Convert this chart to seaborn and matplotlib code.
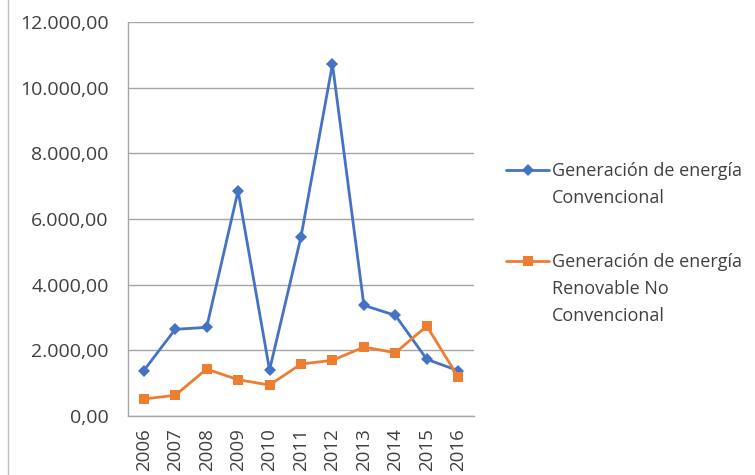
import numpy as np
import pandas as pd
import matplotlib
matplotlib.use("Agg")
import matplotlib.pyplot as plt
import seaborn as sns
from matplotlib.ticker import FuncFormatter, FixedLocator
from matplotlib.lines import Line2D

years = ["2006", "2007", "2008", "2009", "2010", "2011", "2012", "2013", "2014", "2015", "2016"]
convencional = [1380, 2640, 2700, 6860, 1400, 5460, 10715, 3370, 3065, 1726, 1380]
renovable = [518, 630, 1430, 1105, 944, 1583, 1695, 2100, 1927, 2740, 1178]
series_names = ["Generación de energía Convencional",
                "Generación de energía Renovable No Convencional"]
legend_lines = [["Generación de energía", "Convencional"],
                ["Generación de energía", "Renovable No", "Convencional"]]
yticks = [0, 2000, 4000, 6000, 8000, 10000, 12000]

df = pd.DataFrame({
    "year": years * 2,
    "value": convencional + renovable,
    "serie": [series_names[0]] * len(years) + [series_names[1]] * len(years),
})

sns.set_style("white")
plt.rcParams["font.family"] = ["Open Sans", "DejaVu Sans"]
txt = "#404040"
grid = "#a6a6a6"

fig = plt.figure(figsize=(7.55, 4.75), dpi=100)
ax = fig.add_axes([128 / 755, 1 - 416 / 475, 346 / 755, 394 / 475])

palette = {series_names[0]: "#4472C4", series_names[1]: "#ED7D31"}
markers = {series_names[0]: "D", series_names[1]: "s"}
sizes_m = {series_names[0]: 6.5, series_names[1]: 7.5}
for name in series_names:
    sns.lineplot(data=df[df["serie"] == name], x="year", y="value", color=palette[name],
                 marker=markers[name], markersize=sizes_m[name], markeredgewidth=0,
                 linewidth=2.0, ax=ax, legend=False, sort=False)

ax.set_xlim(-0.5, len(years) - 0.5)
ax.set_ylim(0, 12000)
ax.set_yticks(yticks)
ax.yaxis.set_major_formatter(FuncFormatter(
    lambda v, p: f"{v:,.2f}".replace(",", "X").replace(".", ",").replace("X", ".")))
ax.set_xticks(range(len(years)))
ax.set_xticklabels(years, rotation=90)
ax.xaxis.set_minor_locator(FixedLocator(np.arange(-0.5, len(years), 1.0)))
ax.tick_params(axis="x", which="major", length=0, pad=9, labelsize=13.5, labelcolor=txt)
ax.tick_params(axis="x", which="minor", length=5, color=grid, width=1, direction="out")
ax.tick_params(axis="y", length=5, color=grid, width=1, labelsize=14, labelcolor=txt, pad=9)
ax.set_xlabel("")
ax.set_ylabel("")
ax.grid(axis="y", color=grid, linewidth=1)
ax.set_axisbelow(True)
for s in ["top", "right"]:
    ax.spines[s].set_visible(False)
for s in ["left", "bottom"]:
    ax.spines[s].set_color(grid)
    ax.spines[s].set_linewidth(1)

# legend: handle next to the first line of each label
handles = [Line2D([], [], color=palette[n], marker=markers[n], markersize=sizes_m[n],
                  markeredgewidth=0, linewidth=2.0) for n in series_names]
leg_y = [171, 262]
legs = []
for h, lines, y in zip(handles, legend_lines, leg_y):
    lg = fig.legend([h], [lines[0]], loc="center left", frameon=False,
                    bbox_to_anchor=(506 / 755, 1 - y / 475), handlelength=2.4,
                    handletextpad=0.15, borderpad=0, borderaxespad=0,
                    fontsize=13, labelcolor=txt)
    legs.append(lg)

fig.canvas.draw()
for lg, lines, y in zip(legs, legend_lines, leg_y):
    x0 = lg.get_texts()[0].get_window_extent().x0 / fig.bbox.width
    for k, extra in enumerate(lines[1:], start=1):
        fig.text(x0, 1 - (y + 27 * k) / 475, extra, fontsize=13,
                 color=txt, va="center", ha="left")

fig.add_artist(Line2D([8 / 755, 8 / 755], [0, 1], color="#bfbfbf", linewidth=1,
                      transform=fig.transFigure))

fig.savefig("out.png", dpi=100)
